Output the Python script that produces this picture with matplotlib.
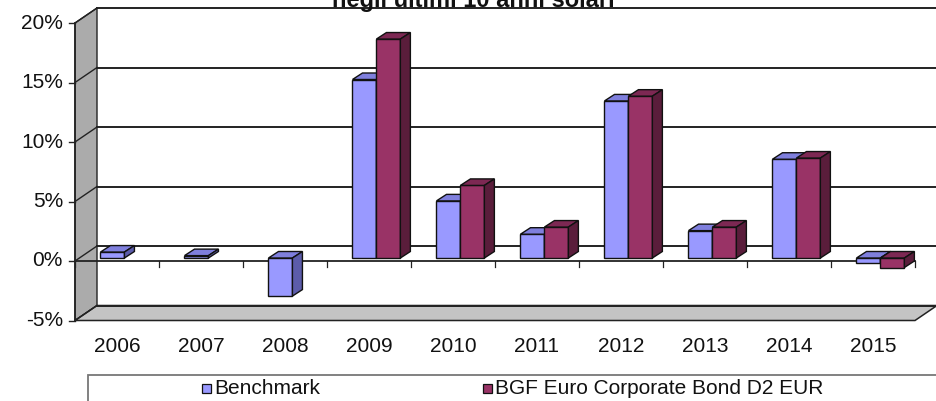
import matplotlib.pyplot as plt
from matplotlib.patches import Polygon, Rectangle

plt.rcParams['font.family'] = ['Liberation Sans', 'DejaVu Sans']

years = ['2006', '2007', '2008', '2009', '2010', '2011', '2012', '2013', '2014', '2015']
benchmark = [0.5, 0.2, -3.2, 15.0, 4.8, 2.0, 13.2, 2.3, 8.3, -0.4]
bgf_fund = [None, None, None, 18.4, 6.1, 2.6, 13.6, 2.6, 8.4, -0.8]
series_names = ['Benchmark', 'BGF Euro Corporate Bond D2 EUR']
y_ticks = [-5, 0, 5, 10, 15, 20]
title = 'negli ultimi 10 anni solari'

# colours: front, top, side
bm_cols = ('#9999ff', '#7f7fdd', '#5c5caa')
bgf_cols = ('#993366', '#7d2853', '#5a1d3b')

W, H, DPI = 937, 401, 100
X0, Y0 = 75, 261          # pixel of (first category edge, 0%)
SX, SY = 84.0, 11.9       # px per category, px per %

fig = plt.figure(figsize=(W / DPI, H / DPI), dpi=DPI)
ax = fig.add_axes([0, 0, 1, 1])
ax.set_xlim(-X0 / SX, (W - X0) / SX)
ax.set_ylim((Y0 - H) / SY, Y0 / SY)
ax.axis('off')

# depth offsets (data units)
wx, wy = 22 / SX, 15 / SY      # wall depth
fx, fy = 4.5 / SX, 3 / SY      # bar front plane
dx, dy = 10 / SX, 6.5 / SY     # bar depth
n = len(years)
ymin, ymax = y_ticks[0], y_ticks[-1]

# back wall
ax.add_patch(Rectangle((wx, ymin + wy), n, ymax - ymin, facecolor='white',
                       edgecolor='none', zorder=1))
# side wall
ax.add_patch(Polygon([(0, ymin), (0, ymax), (wx, ymax + wy), (wx, ymin + wy)],
                     closed=True, facecolor='#ababab', edgecolor='#222222',
                     linewidth=1.0, zorder=2))
# floor
ax.add_patch(Polygon([(0, ymin), (n, ymin), (n + wx, ymin + wy), (wx, ymin + wy)],
                     closed=True, facecolor='#c4c4c4', edgecolor='#222222',
                     linewidth=1.1, zorder=2))

# gridlines on back wall + side wall
for v in y_ticks:
    ax.plot([wx, n + wx], [v + wy, v + wy], color='#222222', lw=1.4, zorder=3)
    ax.plot([0, wx], [v, v + wy], color='#222222', lw=1.0, zorder=3)
    ax.plot([-6 / SX, 0], [v, v], color='#222222', lw=1.0, zorder=3)
    ax.text(-12 / SX, v, f'{v}%', ha='right', va='center', fontsize=15,
            color='#111111')
ax.plot([0, 0], [ymin, ymax], color='#222222', lw=1.2, zorder=3)

# category axis at 0
ax.plot([0, n], [0, 0], color='#222222', lw=1.3, zorder=3)
for i in range(n + 1):
    ax.plot([i, i], [0, -6 / SY], color='#222222', lw=0.9, zorder=3)
for i, y in enumerate(years):
    ax.text(i + 0.5, (Y0 - 347) / SY, y, ha='center', va='center',
            fontsize=15, color='#111111')

bw = 0.285
def draw_bar(xl, v, cols):
    front, top, side = cols
    ax.bar(xl + fx, v, bottom=fy, width=bw, align='edge', color=front,
           edgecolor='#111111', linewidth=1.0, zorder=5)
    yt = max(v, 0) + fy
    yb = min(v, 0) + fy
    xr = xl + fx + bw
    ax.add_patch(Polygon([(xl + fx, yt), (xr, yt), (xr + dx, yt + dy), (xl + fx + dx, yt + dy)],
                         closed=True, facecolor=top, edgecolor='#111111',
                         linewidth=1.0, zorder=5))
    ax.add_patch(Polygon([(xr, yb), (xr, yt), (xr + dx, yt + dy), (xr + dx, yb + dy)],
                         closed=True, facecolor=side, edgecolor='#111111',
                         linewidth=1.0, zorder=5))

for i in range(n):
    draw_bar(i + 0.25, benchmark[i], bm_cols)
    if bgf_fund[i] is not None:
        draw_bar(i + 0.25 + bw, bgf_fund[i], bgf_cols)

# title (cut at top of image, as in the source)
ax.text(473 / SX - X0 / SX, (Y0 - 7) / SY, title, ha='center', va='baseline',
        fontsize=17, fontweight='bold', color='#111111')

# legend box
def fx_(px):
    return px / W
def fy_(py):
    return 1 - py / H
fig.patches.append(Rectangle((fx_(88), fy_(410)), fx_(W + 10) - fx_(88), fy_(375) - fy_(410),
                             transform=fig.transFigure, facecolor='white',
                             edgecolor='#777777', linewidth=1.3))
for (sq, cols, name) in [(202, bm_cols, series_names[0]), (483, bgf_cols, series_names[1])]:
    fig.patches.append(Rectangle((fx_(sq), fy_(393)), 9 / W, 9 / H,
                                 transform=fig.transFigure, facecolor=cols[0],
                                 edgecolor='#111111', linewidth=0.9))
    fig.text(fx_(sq + 12), fy_(389), name, ha='left', va='center', fontsize=15,
             color='#111111')

fig.savefig('out.png', dpi=DPI)
